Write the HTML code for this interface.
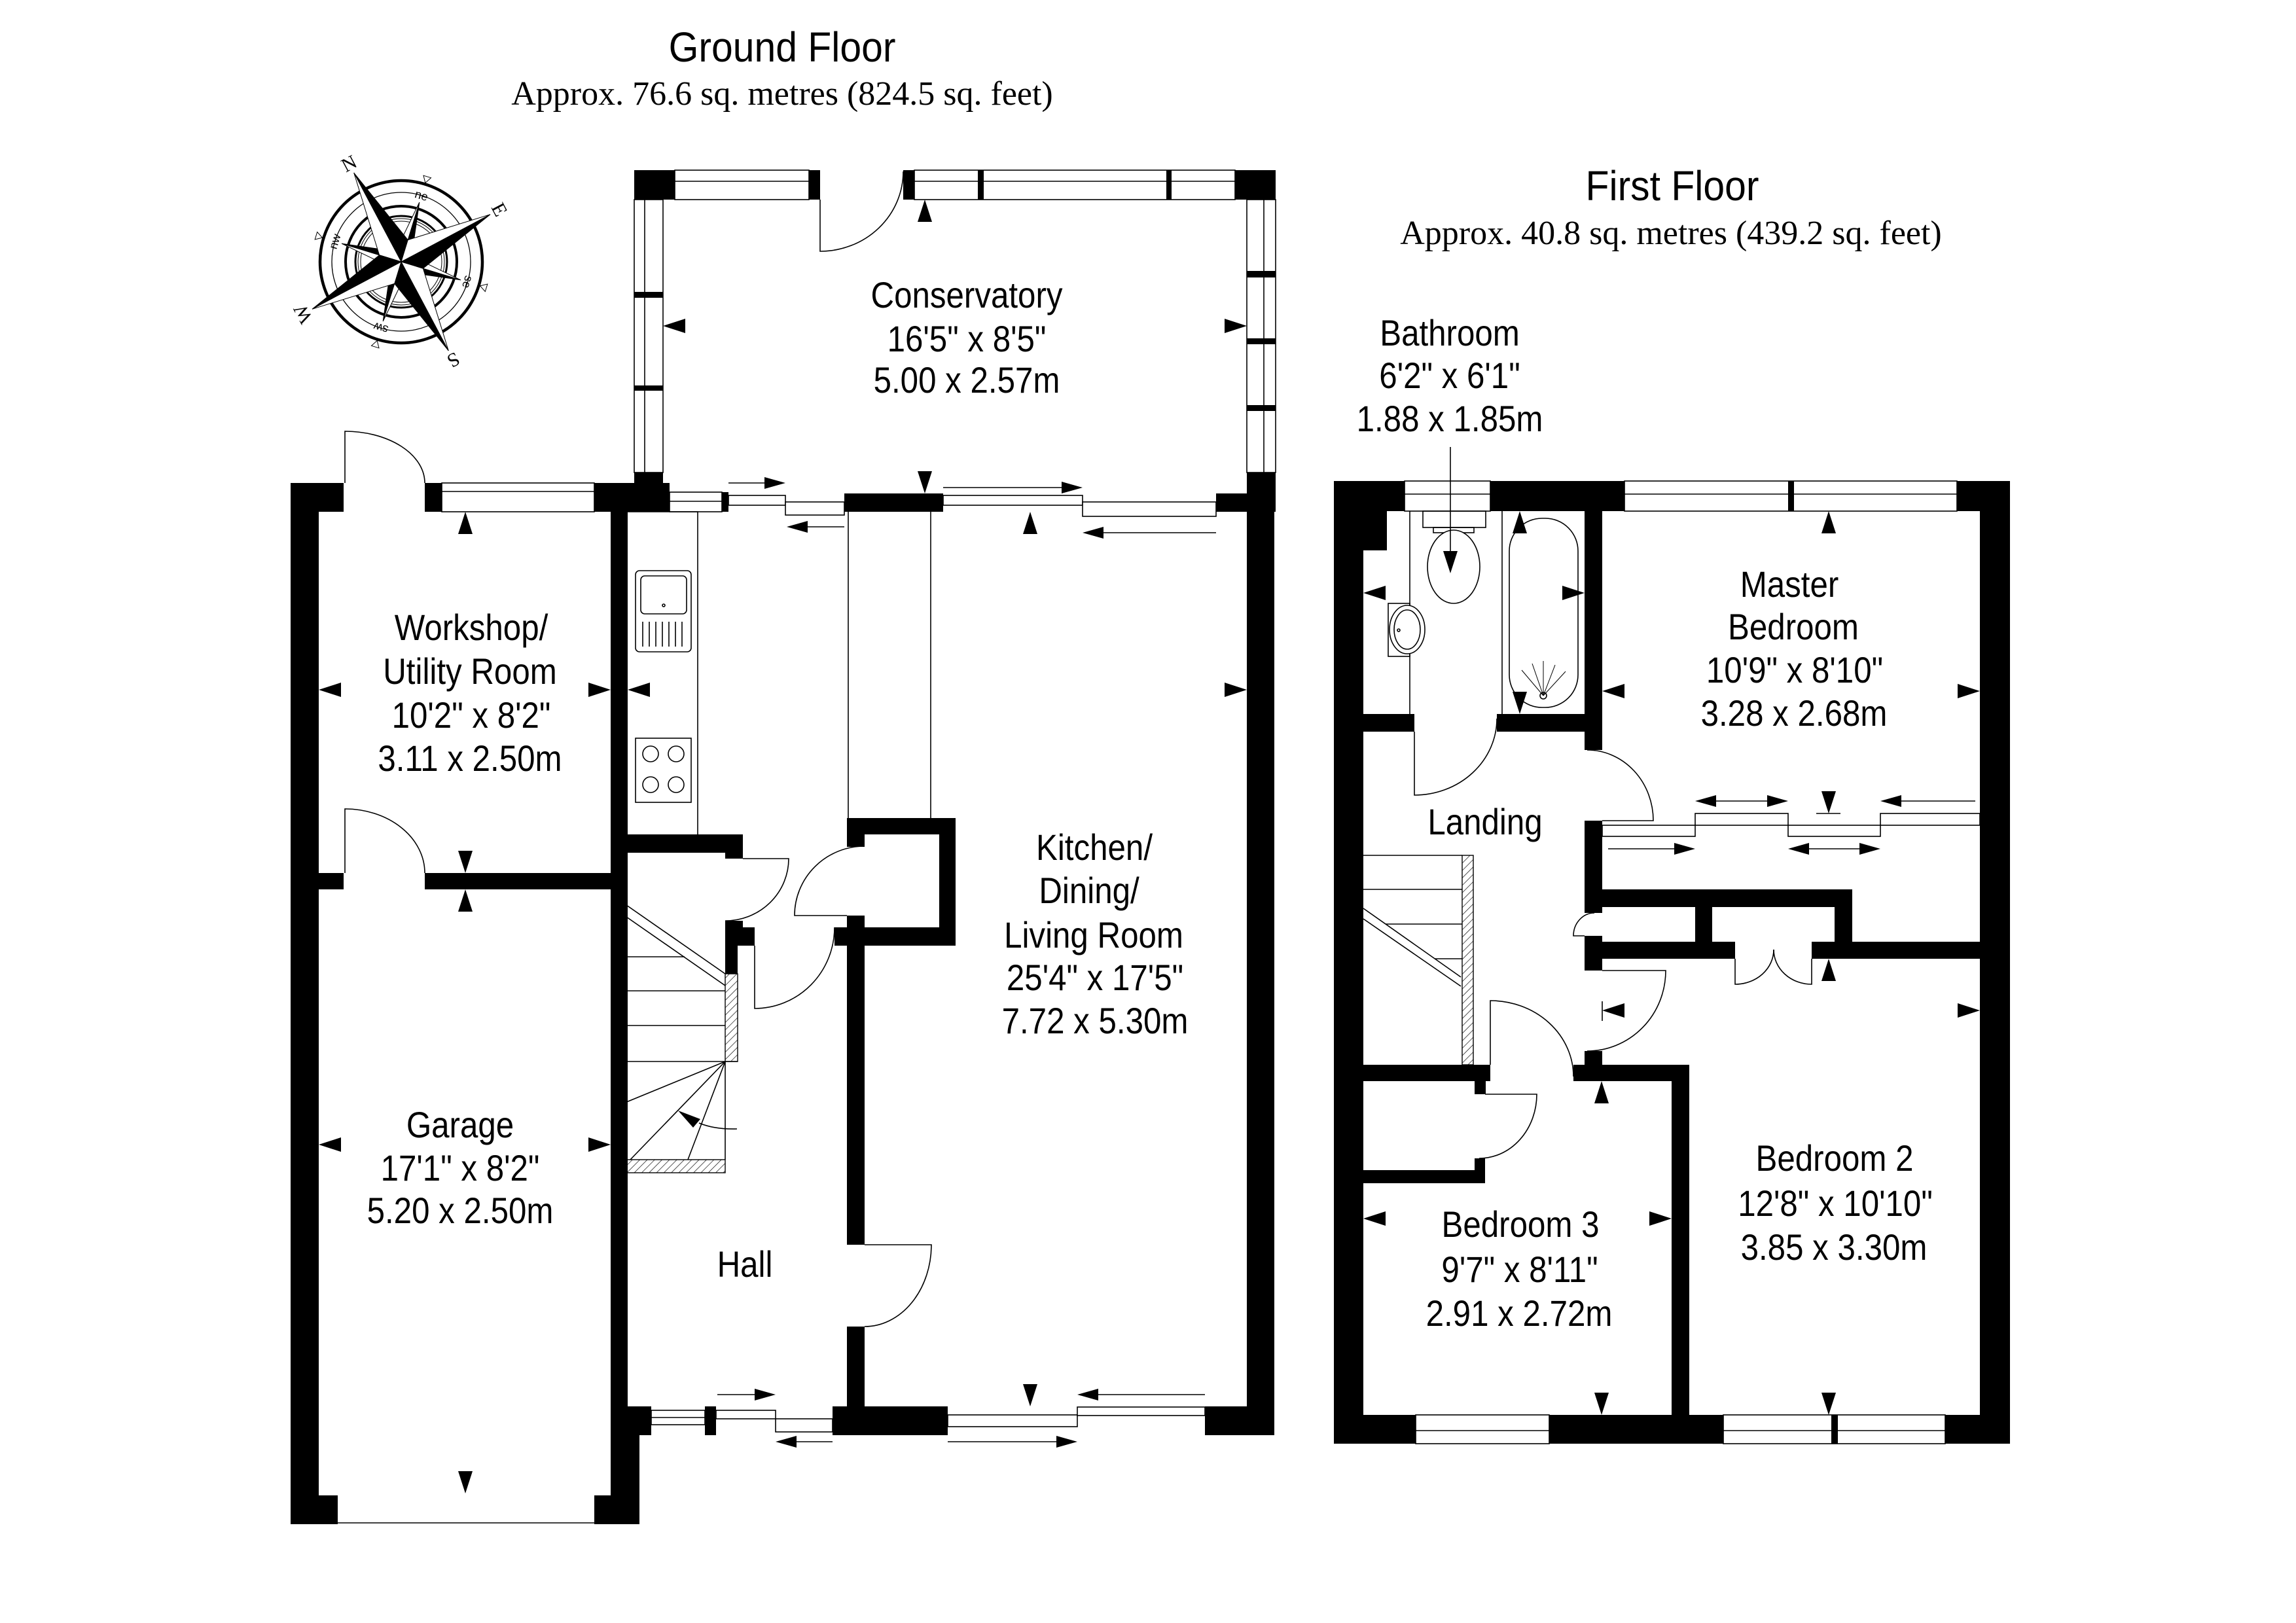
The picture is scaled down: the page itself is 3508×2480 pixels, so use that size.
<!DOCTYPE html>
<html><head><meta charset="utf-8"><style>
html,body{margin:0;padding:0;background:#fff;}
svg{display:block;}
.t{font-family:"Liberation Sans",Arial,sans-serif;font-size:56px;fill:#000;}
.h{font-family:"Liberation Sans",Arial,sans-serif;font-size:64px;fill:#000;}
.s{font-family:"Liberation Serif","Times New Roman",serif;font-size:52px;fill:#000;}
.c{font-family:"Liberation Serif","Times New Roman",serif;font-size:30px;fill:#000;}
.cl{font-family:"Liberation Sans",Arial,sans-serif;font-size:18px;fill:#000;}
</style></head><body>
<svg width="3508" height="2480" viewBox="0 0 3508 2480" xmlns="http://www.w3.org/2000/svg">
<defs>
<path id="da" d="M0,0 L-34,-11 L-34,11 Z"/>
<path id="sa" d="M0,0 L-32,-9 L-32,9 Z"/>
<pattern id="hatch" patternUnits="userSpaceOnUse" width="8" height="8" patternTransform="rotate(45)"><line x1="0" y1="0" x2="0" y2="8" stroke="#000" stroke-width="1.3"/></pattern>
</defs>
<rect width="3508" height="2480" fill="#fff"/>

<!-- TITLES -->
<text class="h" text-anchor="middle" transform="translate(1195,94) scale(0.92,1)">Ground Floor</text>
<text class="s" text-anchor="middle" x="1195" y="160">Approx. 76.6 sq. metres (824.5 sq. feet)</text>
<text class="h" text-anchor="middle" transform="translate(2555,306) scale(0.92,1)">First Floor</text>
<text class="s" text-anchor="middle" x="2553" y="373">Approx. 40.8 sq. metres (439.2 sq. feet)</text>

<!-- COMPASS -->
<g transform="translate(613,400)">
 <g fill="none" stroke="#000">
  <circle r="124" stroke-width="4.5"/>
  <circle r="106" stroke-width="1.3"/>
  <circle r="85" stroke-width="4"/>
  <circle r="70" stroke-width="3"/>
  <circle r="66" stroke-width="1"/>
  <circle r="62" stroke-width="1"/>
 </g>
 <g transform="rotate(-28)">
  <g stroke="#000" stroke-width="1">
   <g transform="rotate(45)"><polygon points="0,0 0,-95 12.7,-12.7" fill="#000"/><polygon points="0,0 0,-95 -12.7,-12.7" fill="#fff"/></g>
   <g transform="rotate(135)"><polygon points="0,0 0,-95 12.7,-12.7" fill="#000"/><polygon points="0,0 0,-95 -12.7,-12.7" fill="#fff"/></g>
   <g transform="rotate(225)"><polygon points="0,0 0,-95 12.7,-12.7" fill="#000"/><polygon points="0,0 0,-95 -12.7,-12.7" fill="#fff"/></g>
   <g transform="rotate(315)"><polygon points="0,0 0,-95 12.7,-12.7" fill="#000"/><polygon points="0,0 0,-95 -12.7,-12.7" fill="#fff"/></g>
   <g transform="rotate(0)"><polygon points="0,0 0,-154 24.7,-24.7" fill="#000"/><polygon points="0,0 0,-154 -24.7,-24.7" fill="#fff"/></g>
   <g transform="rotate(90)"><polygon points="0,0 0,-154 24.7,-24.7" fill="#000"/><polygon points="0,0 0,-154 -24.7,-24.7" fill="#fff"/></g>
   <g transform="rotate(180)"><polygon points="0,0 0,-154 24.7,-24.7" fill="#000"/><polygon points="0,0 0,-154 -24.7,-24.7" fill="#fff"/></g>
   <g transform="rotate(270)"><polygon points="0,0 0,-154 24.7,-24.7" fill="#000"/><polygon points="0,0 0,-154 -24.7,-24.7" fill="#fff"/></g>
  </g>
  <g fill="#fff" stroke="#000" stroke-width="1">
   <polygon points="0,-126 -6,-136 6,-136" transform="rotate(45)"/>
   <polygon points="0,-126 -6,-136 6,-136" transform="rotate(135)"/>
   <polygon points="0,-126 -6,-136 6,-136" transform="rotate(225)"/>
   <polygon points="0,-126 -6,-136 6,-136" transform="rotate(315)"/>
  </g>
  <text class="c" text-anchor="middle" transform="rotate(0) translate(0,-160)">N</text>
  <text class="c" text-anchor="middle" transform="rotate(90) translate(0,-160)">E</text>
  <text class="c" text-anchor="middle" transform="rotate(180) translate(0,-160)">S</text>
  <text class="c" text-anchor="middle" transform="rotate(270) translate(0,-160)">W</text>
  <text class="cl" text-anchor="middle" transform="rotate(45) translate(0,-100)">ne</text>
  <text class="cl" text-anchor="middle" transform="rotate(135) translate(0,-100)">se</text>
  <text class="cl" text-anchor="middle" transform="rotate(225) translate(0,-100)">sw</text>
  <text class="cl" text-anchor="middle" transform="rotate(315) translate(0,-100)">nw</text>
 </g>
</g>

<!-- ============ GROUND FLOOR ============ -->
<g fill="#fff" stroke="#000" stroke-width="1.6">
 <rect x="1031" y="260" width="205" height="45"/>
 <rect x="1397" y="260" width="490" height="45"/>
 <rect x="969" y="305" width="44" height="417"/>
 <rect x="1905" y="305" width="44" height="417"/>
 <rect x="675" y="738" width="233" height="44"/>
 <rect x="1023" y="752" width="80" height="30"/>
 <rect x="1113" y="757" width="87" height="15"/>
 <rect x="1200" y="767" width="90" height="20"/>
 <rect x="1441" y="757" width="213" height="15"/>
 <rect x="1654" y="767" width="204" height="22"/>
 <rect x="995" y="2155" width="82" height="22"/>
 <rect x="1094" y="2155" width="91" height="13"/>
 <rect x="1185" y="2168" width="87" height="20"/>
 <rect x="1448" y="2162" width="198" height="18"/>
 <rect x="1646" y="2150" width="195" height="13"/>
</g>
<g stroke="#000" stroke-width="1.6" fill="none">
 <line x1="1031" y1="277" x2="1236" y2="277"/>
 <line x1="1397" y1="277" x2="1887" y2="277"/>
 <line x1="985" y1="305" x2="985" y2="722"/>
 <line x1="1931" y1="305" x2="1931" y2="722"/>
 <line x1="675" y1="751" x2="908" y2="751"/>
 <line x1="1023" y1="766" x2="1103" y2="766"/>
 <line x1="995" y1="2166" x2="1077" y2="2166"/>
 <line x1="516" y1="2327" x2="908" y2="2327"/>
</g>
<g fill="#000">
 <rect x="969" y="260" width="62" height="45"/>
 <rect x="1236" y="260" width="17" height="45"/>
 <rect x="1380" y="260" width="17" height="45"/>
 <rect x="1494" y="260" width="9" height="45"/>
 <rect x="1782" y="260" width="8" height="45"/>
 <rect x="1887" y="260" width="62" height="45"/>
 <rect x="969" y="446" width="44" height="9"/>
 <rect x="969" y="589" width="44" height="8"/>
 <rect x="1905" y="414" width="44" height="10"/>
 <rect x="1905" y="517" width="44" height="9"/>
 <rect x="1905" y="619" width="44" height="9"/>
 <rect x="969" y="722" width="44" height="60"/>
 <rect x="962" y="738" width="61" height="44"/>
 <rect x="1905" y="722" width="44" height="60"/>
 <rect x="1858" y="754" width="91" height="28"/>
 <rect x="1103" y="752" width="10" height="30"/>
 <rect x="1290" y="754" width="151" height="28"/>
 <rect x="1905" y="754" width="42" height="1439"/>

 <rect x="444" y="738" width="81" height="44"/>
 <rect x="649" y="738" width="26" height="44"/>
 <rect x="908" y="738" width="54" height="44"/>
 <rect x="444" y="738" width="43" height="1591"/>
 <rect x="933" y="738" width="26" height="1455"/>
 <rect x="933" y="2149" width="44" height="180"/>
 <rect x="908" y="2285" width="69" height="44"/>
 <rect x="444" y="2285" width="72" height="44"/>
 <rect x="959" y="2149" width="36" height="44"/>
 <rect x="487" y="1334" width="38" height="25"/>
 <rect x="649" y="1334" width="284" height="25"/>

 <rect x="957" y="1275" width="178" height="28"/>
 <rect x="1108" y="1303" width="27" height="9"/>
 <rect x="1108" y="1407" width="27" height="10"/>
 <rect x="1108" y="1417" width="45" height="28"/>
 <rect x="1108" y="1445" width="19" height="43"/>
 <rect x="1294" y="1250" width="166" height="25"/>
 <rect x="1435" y="1250" width="25" height="195"/>
 <rect x="1275" y="1417" width="185" height="28"/>
 <rect x="1294" y="1250" width="27" height="44"/>
 <rect x="1294" y="1399" width="27" height="503"/>
 <rect x="1294" y="2027" width="27" height="166"/>

 <rect x="1077" y="2149" width="17" height="44"/>
 <rect x="1272" y="2149" width="176" height="44"/>
 <rect x="1841" y="2149" width="106" height="44"/>
</g>
<g fill="none" stroke="#000" stroke-width="1.6">
 <polyline points="957,782 1066,782 1066,1275"/>
 <line x1="1296" y1="782" x2="1296" y2="1250"/>
 <line x1="1422" y1="782" x2="1422" y2="1250"/>
 <rect x="971" y="872" width="85" height="124" rx="6"/>
 <rect x="979" y="880" width="70" height="58" rx="6"/>
 <circle cx="1014" cy="925" r="2"/>
 <path d="M982,950V988M992,950V988M1002,950V988M1012,950V988M1022,950V988M1032,950V988M1042,950V988"/>
 <rect x="971" y="1128" width="85" height="98"/>
 <circle cx="994" cy="1152" r="12"/><circle cx="1033" cy="1152" r="12"/>
 <circle cx="994" cy="1199" r="12"/><circle cx="1033" cy="1199" r="12"/>
</g>
<rect x="1108" y="1488" width="19" height="134" fill="url(#hatch)" stroke="#000" stroke-width="1.4"/>
<rect x="957" y="1772" width="151" height="20" fill="url(#hatch)" stroke="#000" stroke-width="1.4"/>
<g fill="none" stroke="#000" stroke-width="1.6">
 <line x1="957" y1="1383" x2="1108" y2="1488"/>
 <line x1="957" y1="1401" x2="1108" y2="1506"/>
 <line x1="957" y1="1462" x2="1046" y2="1462"/>
 <line x1="957" y1="1514" x2="1108" y2="1514"/>
 <line x1="957" y1="1567" x2="1108" y2="1567"/>
 <line x1="957" y1="1622" x2="1127" y2="1622"/>
 <line x1="1108" y1="1622" x2="957" y2="1684"/>
 <line x1="1108" y1="1622" x2="963" y2="1772"/>
 <line x1="1108" y1="1622" x2="1051" y2="1772"/>
 <line x1="1108" y1="1622" x2="1108" y2="1772"/>
 <path d="M1126,1725 Q1092,1726 1068,1716"/>
</g>
<polygon points="1036,1697 1070,1710 1059,1723" fill="#000"/>
<g fill="none" stroke="#000" stroke-width="1.6">
 <path d="M527,738 L527,659 A122,79 0 0,1 649,738"/>
 <path d="M527,1334 L527,1236 A122,98 0 0,1 649,1334"/>
 <path d="M1253,305 L1253,384 A127,122 0 0,0 1380,262"/>
 <path d="M1135,1312 L1205,1312 A97,95 0 0,1 1108,1407"/>
 <path d="M1153,1445 L1153,1541 A122,124 0 0,0 1275,1417"/>
 <path d="M1294,1399 L1214,1399 A107,106 0 0,1 1321,1293"/>
 <path d="M1321,1902 L1423,1902 A102,125 0 0,1 1321,2027"/>
</g>
<g stroke="#000" stroke-width="1.6">
 <line x1="1113" y1="738" x2="1190" y2="738"/>
 <line x1="1290" y1="805" x2="1212" y2="805"/>
 <line x1="1441" y1="745" x2="1640" y2="745"/>
 <line x1="1858" y1="814" x2="1668" y2="814"/>
 <line x1="1096" y1="2131" x2="1175" y2="2131"/>
 <line x1="1272" y1="2203" x2="1195" y2="2203"/>
 <line x1="1841" y1="2131" x2="1660" y2="2131"/>
 <line x1="1448" y1="2203" x2="1636" y2="2203"/>
</g>
<g fill="#000">
 <use href="#sa" transform="translate(1200,738)"/>
 <use href="#sa" transform="translate(1202,805) rotate(180)"/>
 <use href="#sa" transform="translate(1654,745)"/>
 <use href="#sa" transform="translate(1654,814) rotate(180)"/>
 <use href="#sa" transform="translate(1185,2131)"/>
 <use href="#sa" transform="translate(1185,2203) rotate(180)"/>
 <use href="#sa" transform="translate(1646,2131) rotate(180)"/>
 <use href="#sa" transform="translate(1646,2203)"/>
</g>
<g fill="#000">
 <use href="#da" transform="translate(487,1054) rotate(180)"/>
 <use href="#da" transform="translate(933,1054)"/>
 <use href="#da" transform="translate(711,782) rotate(-90)"/>
 <use href="#da" transform="translate(711,1334) rotate(90)"/>
 <use href="#da" transform="translate(711,1359) rotate(-90)"/>
 <use href="#da" transform="translate(487,1749) rotate(180)"/>
 <use href="#da" transform="translate(933,1749)"/>
 <use href="#da" transform="translate(711,2282) rotate(90)"/>
 <use href="#da" transform="translate(959,1054) rotate(180)"/>
 <use href="#da" transform="translate(1574,782) rotate(-90)"/>
 <use href="#da" transform="translate(1905,1054)"/>
 <use href="#da" transform="translate(1574,2149) rotate(90)"/>
 <use href="#da" transform="translate(1013,498) rotate(180)"/>
 <use href="#da" transform="translate(1905,498)"/>
 <use href="#da" transform="translate(1413,305) rotate(-90)"/>
 <use href="#da" transform="translate(1413,754) rotate(90)"/>
</g>
<g class="t" text-anchor="middle">
 <text transform="translate(1477,470) scale(0.88,1)">Conservatory</text>
 <text transform="translate(1477,537) scale(0.88,1)">16'5" x 8'5"</text>
 <text transform="translate(1477,600) scale(0.88,1)">5.00 x 2.57m</text>
 <text transform="translate(720,978) scale(0.88,1)">Workshop/</text>
 <text transform="translate(718,1045) scale(0.88,1)">Utility Room</text>
 <text transform="translate(720,1112) scale(0.88,1)">10'2" x 8'2"</text>
 <text transform="translate(718,1178) scale(0.88,1)">3.11 x 2.50m</text>
 <text transform="translate(703,1738) scale(0.88,1)">Garage</text>
 <text transform="translate(703,1804) scale(0.88,1)">17'1" x 8'2"</text>
 <text transform="translate(703,1869) scale(0.88,1)">5.20 x 2.50m</text>
 <text transform="translate(1138,1951) scale(0.88,1)">Hall</text>
 <text transform="translate(1672,1314) scale(0.88,1)">Kitchen/</text>
 <text transform="translate(1664,1380) scale(0.88,1)">Dining/</text>
 <text transform="translate(1671,1448) scale(0.88,1)">Living Room</text>
 <text transform="translate(1673,1513) scale(0.88,1)">25'4" x 17'5"</text>
 <text transform="translate(1673,1579) scale(0.88,1)">7.72 x 5.30m</text>
</g>

<!-- ============ FIRST FLOOR ============ -->
<g fill="#fff" stroke="#000" stroke-width="1.6">
 <rect x="2146" y="735" width="131" height="46"/>
 <rect x="2482" y="735" width="508" height="46"/>
 <rect x="2163" y="2162" width="204" height="44"/>
 <rect x="2633" y="2162" width="339" height="44"/>
</g>
<g stroke="#000" stroke-width="1.6">
 <line x1="2146" y1="755" x2="2277" y2="755"/>
 <line x1="2482" y1="755" x2="2990" y2="755"/>
 <line x1="2163" y1="2186" x2="2367" y2="2186"/>
 <line x1="2633" y1="2186" x2="2972" y2="2186"/>
</g>
<g fill="#000">
 <rect x="2038" y="735" width="45" height="1471"/>
 <rect x="2038" y="735" width="108" height="46"/>
 <rect x="2038" y="735" width="81" height="106"/>
 <rect x="2277" y="735" width="205" height="46"/>
 <rect x="2732" y="735" width="9" height="46"/>
 <rect x="2990" y="735" width="81" height="46"/>
 <rect x="3025" y="735" width="46" height="1471"/>
 <rect x="2038" y="2162" width="125" height="44"/>
 <rect x="2367" y="2162" width="266" height="44"/>
 <rect x="2798" y="2162" width="10" height="44"/>
 <rect x="2972" y="2162" width="99" height="44"/>

 <rect x="2421" y="781" width="27" height="365"/>
 <rect x="2083" y="1091" width="78" height="27"/>
 <rect x="2287" y="1091" width="161" height="27"/>
 <rect x="2421" y="1254" width="27" height="141"/>
 <rect x="2421" y="1430" width="27" height="53"/>
 <rect x="2421" y="1606" width="27" height="39"/>
 <rect x="2421" y="1359" width="409" height="27"/>
 <rect x="2803" y="1359" width="27" height="106"/>
 <rect x="2590" y="1386" width="26" height="53"/>
 <rect x="2421" y="1439" width="230" height="26"/>
 <rect x="2768" y="1439" width="257" height="26"/>

 <rect x="2083" y="1627" width="194" height="25"/>
 <rect x="2253" y="1652" width="17" height="20"/>
 <rect x="2404" y="1627" width="177" height="25"/>
 <rect x="2554" y="1627" width="27" height="535"/>
 <rect x="2083" y="1788" width="186" height="20"/>
 <rect x="2253" y="1770" width="16" height="38"/>
</g>
<g fill="none" stroke="#000" stroke-width="1.6">
 <line x1="2154" y1="781" x2="2154" y2="1091"/>
 <rect x="2174" y="781" width="96" height="25"/>
 <rect x="2190" y="806" width="62" height="8"/>
 <ellipse cx="2221" cy="866" rx="40" ry="56" fill="#fff"/>
 <rect x="2121" y="922" width="33" height="81"/>
 <ellipse cx="2150" cy="962" rx="27" ry="37" fill="#fff"/>
 <ellipse cx="2150" cy="962" rx="20" ry="30"/>
 <circle cx="2137" cy="963" r="2"/>
 <line x1="2295" y1="781" x2="2295" y2="1091"/>
 <rect x="2306" y="792" width="105" height="289" rx="50"/>
 <circle cx="2358" cy="1063" r="5"/>
 <path d="M2358,1063L2325,1024M2358,1063L2341,1014M2358,1063L2358,1010M2358,1063L2376,1016M2358,1063L2392,1026" stroke-width="1"/>
 <line x1="2216" y1="683" x2="2216" y2="850"/>
</g>
<rect x="2234" y="1307" width="17" height="320" fill="url(#hatch)" stroke="#000" stroke-width="1.4"/>
<g fill="none" stroke="#000" stroke-width="1.6">
 <line x1="2083" y1="1307" x2="2234" y2="1307"/>
 <line x1="2083" y1="1359" x2="2234" y2="1359"/>
 <line x1="2117" y1="1412" x2="2234" y2="1412"/>
 <line x1="2192" y1="1465" x2="2234" y2="1465"/>
 <line x1="2083" y1="1388" x2="2232" y2="1493"/>
 <line x1="2083" y1="1404" x2="2232" y2="1507"/>
</g>
<g fill="none" stroke="#000" stroke-width="1.6">
 <rect x="2448" y="1261" width="142" height="17"/>
 <rect x="2590" y="1243" width="142" height="18"/>
 <rect x="2732" y="1261" width="141" height="17"/>
 <rect x="2873" y="1243" width="152" height="18"/>
 <line x1="2600" y1="1224" x2="2722" y2="1224"/>
 <line x1="3018" y1="1224" x2="2883" y2="1224"/>
 <line x1="2457" y1="1297" x2="2580" y2="1297"/>
 <line x1="2742" y1="1297" x2="2863" y2="1297"/>
 <line x1="2775" y1="1243" x2="2812" y2="1243"/>
 <line x1="2448" y1="1530" x2="2448" y2="1560"/>
</g>
<g fill="#000">
 <use href="#sa" transform="translate(2590,1224) rotate(180)"/>
 <use href="#sa" transform="translate(2732,1224)"/>
 <use href="#sa" transform="translate(2873,1224) rotate(180)"/>
 <use href="#sa" transform="translate(2590,1297)"/>
 <use href="#sa" transform="translate(2732,1297) rotate(180)"/>
 <use href="#sa" transform="translate(2873,1297)"/>
</g>
<g fill="none" stroke="#000" stroke-width="1.6">
 <path d="M2161,1118 L2161,1215 A126,117 0 0,0 2287,1098"/>
 <path d="M2448,1254 L2526,1254 A101,108 0 0,0 2425,1146"/>
 <path d="M2421,1430 L2404,1430 A32,35 0 0,1 2436,1395"/>
 <path d="M2448,1483 L2545,1483 A120,123 0 0,1 2425,1606"/>
 <path d="M2277,1627 L2277,1529 A127,116 0 0,1 2404,1645"/>
 <path d="M2269,1672 L2348,1672 A88,98 0 0,1 2260,1770"/>
 <path d="M2651,1465 L2651,1504 A59,53 0 0,0 2710,1451"/>
 <path d="M2768,1465 L2768,1504 A58,53 0 0,1 2710,1451"/>
</g>
<g fill="#000">
 <use href="#da" transform="translate(2083,906) rotate(180)"/>
 <use href="#da" transform="translate(2421,906)"/>
 <use href="#da" transform="translate(2322,781) rotate(-90)"/>
 <use href="#da" transform="translate(2322,1091) rotate(90)"/>
 <use href="#da" transform="translate(2216,876) rotate(90)"/>
 <use href="#da" transform="translate(2794,781) rotate(-90)"/>
 <use href="#da" transform="translate(2448,1056) rotate(180)"/>
 <use href="#da" transform="translate(3025,1056)"/>
 <use href="#da" transform="translate(2794,1243) rotate(90)"/>
 <use href="#da" transform="translate(2794,1465) rotate(-90)"/>
 <use href="#da" transform="translate(2448,1544) rotate(180)"/>
 <use href="#da" transform="translate(3025,1544)"/>
 <use href="#da" transform="translate(2794,2162) rotate(90)"/>
 <use href="#da" transform="translate(2447,1652) rotate(-90)"/>
 <use href="#da" transform="translate(2083,1862) rotate(180)"/>
 <use href="#da" transform="translate(2554,1862)"/>
 <use href="#da" transform="translate(2447,2162) rotate(90)"/>
</g>
<g class="t" text-anchor="middle">
 <text transform="translate(2215,528) scale(0.88,1)">Bathroom</text>
 <text transform="translate(2215,593) scale(0.88,1)">6'2" x 6'1"</text>
 <text transform="translate(2215,659) scale(0.88,1)">1.88 x 1.85m</text>
 <text transform="translate(2734,912) scale(0.88,1)">Master</text>
 <text transform="translate(2740,977) scale(0.88,1)">Bedroom</text>
 <text transform="translate(2742,1043) scale(0.88,1)">10'9" x 8'10"</text>
 <text transform="translate(2741,1109) scale(0.88,1)">3.28 x 2.68m</text>
 <text transform="translate(2269,1275) scale(0.88,1)">Landing</text>
 <text transform="translate(2803,1789) scale(0.88,1)">Bedroom 2</text>
 <text transform="translate(2804,1858) scale(0.88,1)">12'8" x 10'10"</text>
 <text transform="translate(2802,1925) scale(0.88,1)">3.85 x 3.30m</text>
 <text transform="translate(2323,1890) scale(0.88,1)">Bedroom 3</text>
 <text transform="translate(2322,1959) scale(0.88,1)">9'7" x 8'11"</text>
 <text transform="translate(2321,2026) scale(0.88,1)">2.91 x 2.72m</text>
</g>
</svg>
</body></html>
